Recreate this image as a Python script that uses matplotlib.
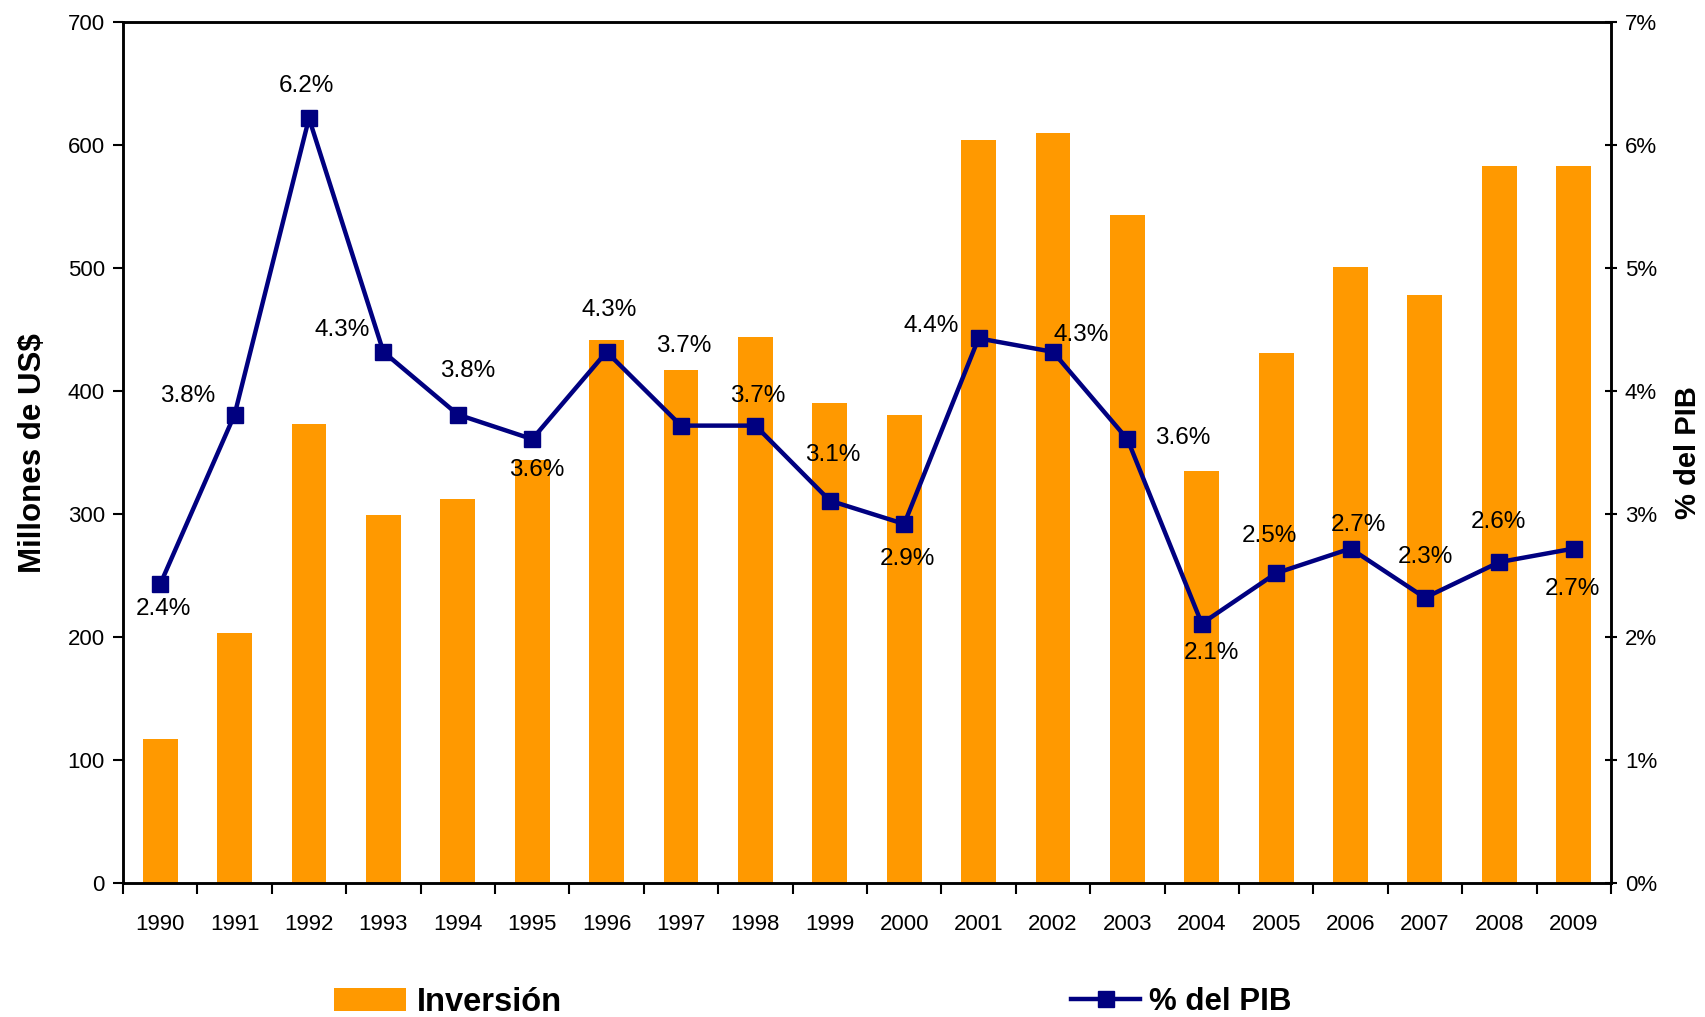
import matplotlib
matplotlib.use("Agg")
import matplotlib.pyplot as plt
from matplotlib.patches import Patch
from matplotlib.lines import Line2D
from matplotlib.ticker import FuncFormatter, FixedLocator

plt.rcParams['font.family'] = ['Liberation Sans', 'DejaVu Sans']

# Data
years = [1990, 1991, 1992, 1993, 1994, 1995, 1996, 1997, 1998, 1999,
         2000, 2001, 2002, 2003, 2004, 2005, 2006, 2007, 2008, 2009]
inversion = [117, 203, 373, 299, 312, 344, 442, 417, 444, 390,
             381, 604, 610, 543, 335, 431, 501, 478, 583, 583]
pct_pib = [2.43, 3.81, 6.22, 4.32, 3.81, 3.61, 4.32, 3.72, 3.72, 3.11,
           2.92, 4.43, 4.32, 3.61, 2.11, 2.52, 2.72, 2.32, 2.61, 2.72]

# label placement (offset points) for the % labels
label_offsets = [(2, -18), (-34, 13), (-2, 23), (-30, 16), (7, 31),
                 (3, -22), (2, 30), (2, 57), (2, 21), (2, 33),
                 (2, -25), (-34, 9), (20, 12), (40, 1), (7, -21),
                 (-5, 27), (6, 17), (0, 29), (-1, 29), (-1, -29)]

BAR_COLOR = '#FF9900'
LINE_COLOR = '#000080'

fig = plt.figure(figsize=(17.06, 10.17), dpi=100)
ax = fig.add_axes([0.0721, 0.1318, 0.8722, 0.8462])
x = list(range(len(years)))

ax.bar(x, inversion, width=0.47, color=BAR_COLOR, zorder=2)
ax.set_xlim(-0.5, len(years) - 0.5)
ax.set_ylim(0, 700)
ax.set_yticks(range(0, 701, 100))
ax.tick_params(axis='y', direction='out', length=7, width=1.5, labelsize=16, pad=6)
ax.set_ylabel('Millones de US$', fontsize=22.5, fontweight='bold', labelpad=14)

# x ticks between the categories, labels under the bars
ax.set_xticks(x)
ax.set_xticklabels([str(y) for y in years], fontsize=16)
ax.tick_params(axis='x', which='major', length=0, pad=22)
ax.xaxis.set_minor_locator(FixedLocator([i - 0.5 for i in range(len(years) + 1)]))
ax.tick_params(axis='x', which='minor', direction='out', length=8, width=1.5)

for sp in ax.spines.values():
    sp.set_linewidth(1.8)

ax2 = ax.twinx()
ax2.plot(x, pct_pib, color=LINE_COLOR, lw=3.2, marker='s', ms=11,
         markerfacecolor=LINE_COLOR, markeredgecolor=LINE_COLOR, zorder=3)
ax2.set_ylim(0, 7)
ax2.set_yticks(range(0, 8))
ax2.yaxis.set_major_formatter(FuncFormatter(lambda v, p: f'{int(v)}%'))
ax2.tick_params(axis='y', direction='inout', length=8, width=1.5, labelsize=16, pad=6)
ax2.set_ylabel('% del PIB', fontsize=21, fontweight='bold', rotation=90, labelpad=12)
for sp in ax2.spines.values():
    sp.set_linewidth(1.8)

for xi, v, off in zip(x, pct_pib, label_offsets):
    ax2.annotate(f'{v:.1f}%', (xi, v), xytext=off, textcoords='offset points',
                 ha='center', va='center', fontsize=17.5, color='black', zorder=4)

# legend at the bottom, two separate entries
fig.legend(handles=[Patch(facecolor=BAR_COLOR, edgecolor='none')], labels=['Inversión'],
           loc='center left', bbox_to_anchor=(0.196, 0.0147), frameon=False,
           prop={'size': 23.5, 'weight': 'bold'}, handlelength=2.2, handleheight=0.72,
           handletextpad=0.33, borderpad=0, borderaxespad=0)
fig.legend(handles=[Line2D([0], [0], color=LINE_COLOR, lw=3.2, marker='s', ms=11)],
           labels=['% del PIB'], loc='center left', bbox_to_anchor=(0.628, 0.0147),
           frameon=False, prop={'size': 22.5, 'weight': 'bold'}, handlelength=2.2,
           handletextpad=0.3, borderpad=0, borderaxespad=0)

fig.savefig('out.png', dpi=100)
